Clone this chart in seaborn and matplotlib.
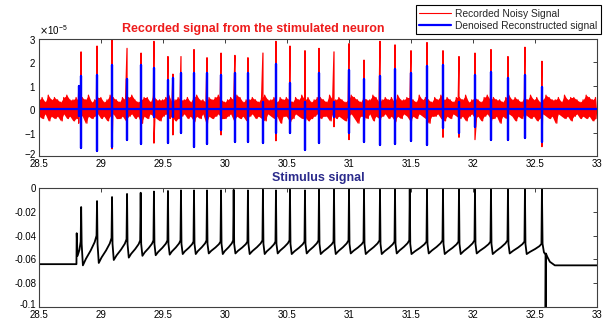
import numpy as np
import pandas as pd
import matplotlib
matplotlib.use("Agg")
import matplotlib.pyplot as plt
import matplotlib.transforms as mtransforms
from matplotlib.ticker import ScalarFormatter, FormatStrFormatter
import seaborn as sns

# ---- recorded signal (top panel), amplitudes in units of 1e-5 ----
T_START, T_END = 28.5, 33.0

# upper / lower edge of the background noise band, in units of 1e-6
NOISE_UP = [
    4, 5, 3, 6, 4, 5, 4, 3, 5, 6, 4, 4, 5, 3, 5, 4, 6, 3, 4, 5,
    5, 3, 4, 6, 5, 4, 3, 5, 4, 5, 6, 4, 3, 4, 5, 5, 3, 6, 4, 4,
    4, 5, 6, 3, 4, 5, 4, 4, 5, 3, 5, 6, 4, 4, 3, 5, 4, 5, 6, 4,
    3, 4, 5, 4, 6, 5, 3, 4, 4, 5, 4, 3, 5, 6, 4, 4, 5, 3, 5, 4,
    5, 4, 3, 5, 4, 6, 4, 5, 3, 4, 5, 5, 4, 3, 6, 4, 4, 5, 4, 3,
    4, 6, 5, 4, 3, 5, 4, 4, 6, 5, 3, 4, 5, 4, 5, 3, 6, 4, 4, 5,
    5, 4, 3, 6, 4, 5, 4, 3, 5, 4, 6, 4, 5, 4, 3, 5, 5, 4, 6, 3,
    4, 5, 4, 3, 5, 6, 4, 5, 4, 4, 3, 5, 6, 4, 5, 4, 3, 5, 4, 6,
    4, 5, 3, 4, 6, 5, 4, 4, 5, 3, 6, 4, 5, 5, 4, 3, 4, 6, 5, 4, 5,
]
NOISE_DOWN = [
    3, 4, 2, 5, 3, 4, 3, 5, 2, 4, 3, 5, 4, 2, 3, 6, 3, 4, 3, 2,
    4, 3, 5, 3, 2, 4, 4, 3, 5, 3, 2, 4, 3, 6, 3, 4, 2, 3, 4, 5,
    3, 2, 4, 3, 5, 4, 3, 2, 4, 3, 5, 3, 4, 2, 6, 3, 4, 3, 2, 4,
    4, 3, 2, 5, 3, 4, 3, 5, 3, 2, 4, 3, 4, 5, 2, 3, 4, 3, 6, 3,
    3, 5, 4, 2, 3, 4, 3, 5, 4, 3, 2, 4, 3, 3, 5, 2, 4, 3, 4, 5,
    3, 2, 4, 6, 3, 3, 4, 2, 5, 3, 4, 3, 2, 4, 3, 5, 3, 4, 2, 3,
    5, 3, 4, 2, 3, 4, 6, 3, 3, 2, 4, 5, 3, 4, 2, 3, 4, 3, 5, 3,
    2, 4, 3, 5, 3, 2, 4, 4, 3, 6, 3, 4, 2, 3, 5, 3, 4, 2, 3, 4,
    3, 5, 4, 2, 3, 4, 3, 6, 2, 3, 4, 3, 5, 3, 2, 4, 3, 4, 3, 5, 4,
]

SPIKE_T = [28.82, 28.839, 28.968, 29.089, 29.21, 29.323, 29.427, 29.54, 29.58,
           29.645, 29.75, 29.855, 29.968, 30.08, 30.185, 30.306, 30.411, 30.524,
           30.645, 30.758, 30.879, 31.0, 31.121, 31.25, 31.371, 31.5, 31.629,
           31.758, 31.887, 32.016, 32.145, 32.282, 32.419, 32.556]
RED_UP = [0.8, 2.45, 2.7, 3.0, 2.6, 2.4, 2.9, 2.25, 1.5, 2.25, 2.55, 2.2, 2.4,
          2.3, 2.2, 2.4, 2.9, 2.7, 2.5, 2.6, 2.45, 2.8, 2.1, 2.9, 2.75, 2.5,
          2.85, 2.5, 2.25, 2.4, 2.55, 2.25, 2.65, 2.05]
RED_DOWN = [-0.6, -0.6, -0.6, -1.7, -0.6, -0.6, -1.45, -0.6, -1.1, -0.6, -0.6,
            -0.6, -1.1, -0.6, -0.6, -0.6, -1.35, -0.6, -0.6, -0.6, -0.75, -1.3,
            -0.6, -0.6, -0.6, -0.6, -0.6, -1.2, -1.2, -1.3, -0.6, -0.6, -0.6, -1.6]
BLUE_UP = [1.0, 1.4, 1.45, 1.9, 1.3, 1.9, 1.75, 1.25, 1.35, 1.53, 1.55, 1.55,
           1.45, 1.53, 1.53, 0.3, 1.95, 1.1, 0.3, 1.55, 0.3, 1.67, 1.3, 1.4,
           1.7, 1.55, 1.85, 1.9, 0.3, 1.45, 1.6, 1.35, 1.45, 0.95]
BLUE_DOWN = [-0.3, -1.67, -1.8, -1.6, -1.3, -1.5, -0.35, -1.45, -0.35, -1.0,
             -1.6, -1.5, -0.9, -1.4, -1.4, -1.45, -1.0, -1.0, -1.75, -1.45,
             -0.35, -1.0, -1.4, -1.55, -1.5, -1.35, -1.55, -0.8, -1.0, -0.75,
             -1.3, -1.3, -1.25, -1.4]

# ---- stimulus signal (bottom panel) ----
STIM_HEAD_T = [28.5, 28.802, 28.804, 28.811, 28.826]
STIM_HEAD_V = [-0.064, -0.064, -0.038, -0.057, -0.052]
STIM_SPIKE_T = [28.84, 28.968, 29.089, 29.21, 29.32, 29.427, 29.54, 29.645,
                29.75, 29.855, 29.968, 30.07, 30.185, 30.306, 30.411, 30.524,
                30.645, 30.758, 30.879, 31.0, 31.121, 31.25, 31.371, 31.49,
                31.629, 31.758, 31.887, 32.016, 32.145, 32.282, 32.419, 32.556]
STIM_PEAK = [-0.016, -0.011, -0.0076, -0.005, -0.004, -0.003, -0.0025, -0.002,
             -0.002, -0.002, -0.002, -0.0015, -0.002, -0.0015, -0.002, -0.0015,
             -0.002, -0.0015, -0.001, -0.0015, -0.001, -0.0015, -0.001, -0.001,
             -0.001, -0.001, -0.001, -0.001, -0.001, -0.001, -0.001, -0.001]
STIM_TROUGH = [-0.065, -0.063, -0.0605, -0.0585, -0.057, -0.0565, -0.056,
               -0.0555, -0.0555, -0.055, -0.0555, -0.055, -0.0555, -0.0555,
               -0.055, -0.0555, -0.055, -0.0555, -0.0555, -0.055, -0.0555,
               -0.0555, -0.055, -0.0555, -0.055, -0.0555, -0.0555, -0.055,
               -0.0555, -0.055, -0.0555, -0.055]
STIM_KNEE = [-0.045, -0.040, -0.042, -0.043, -0.044, -0.044, -0.044, -0.044,
             -0.045, -0.044, -0.045, -0.044, -0.045, -0.044, -0.045, -0.044,
             -0.045, -0.044, -0.045, -0.044, -0.045, -0.044, -0.045, -0.044,
             -0.045, -0.044, -0.045, -0.044, -0.045, -0.044, -0.045, -0.047]
# shape of one inter-spike ramp: (fraction of interval, fraction of trough->knee rise)
RAMP_PHASE = [0.3, 0.6, 0.85]
RAMP_RISE = [0.22, 0.5, 0.78]
STIM_TAIL_T = [32.561, 32.572, 32.585, 32.585, 32.588, 32.6, 32.62, 32.66, 33.0]
STIM_TAIL_V = [-0.047, -0.054, -0.056, -0.13, -0.055, -0.058, -0.062, -0.065, -0.065]


def build_recorded():
    n = len(NOISE_UP)
    t_noise = np.linspace(T_START, T_END, 2 * n)
    v_noise = np.empty(2 * n)
    v_noise[0::2] = np.array(NOISE_UP) * 0.1
    v_noise[1::2] = -np.array(NOISE_DOWN) * 0.1
    band = pd.DataFrame({"t": t_noise[0::2],
                         "hi": v_noise[0::2] * 1e-5,
                         "lo": v_noise[1::2] * 1e-5})

    t_sp = np.repeat(SPIKE_T, 2)
    v_sp = np.column_stack([RED_UP, RED_DOWN]).ravel()
    t = np.concatenate([t_noise, t_sp])
    v = np.concatenate([v_noise, v_sp])
    order = np.argsort(t, kind="stable")
    red = pd.DataFrame({"t": t[order], "v": v[order] * 1e-5})

    tb = [T_START]
    vb = [0.0]
    for s, up, dn in zip(SPIKE_T, BLUE_UP, BLUE_DOWN):
        tb += [s, s, s, s]
        vb += [0.0, up, dn, 0.0]
    tb.append(T_END)
    vb.append(0.0)
    blue = pd.DataFrame({"t": tb, "v": np.array(vb) * 1e-5})
    return red, band, blue


def build_stimulus():
    t = list(STIM_HEAD_T)
    v = list(STIM_HEAD_V)
    n = len(STIM_SPIKE_T)
    for k in range(n):
        s = STIM_SPIKE_T[k]
        t += [s - 0.004, s]
        v += [STIM_KNEE[k], STIM_PEAK[k]]
        if k + 1 < n:
            isi = STIM_SPIKE_T[k + 1] - s
            tr = STIM_TROUGH[k]
            kn = STIM_KNEE[k + 1]
            t += [s + 0.004, s + 0.014]
            v += [-0.047, tr]
            for ph, rise in zip(RAMP_PHASE, RAMP_RISE):
                t.append(s + ph * isi)
                v.append(tr + rise * (kn - tr))
    t += STIM_TAIL_T
    v += STIM_TAIL_V
    return pd.DataFrame({"t": t, "v": v})


def style_axis(ax):
    for sp in ax.spines.values():
        sp.set_visible(True)
        sp.set_color("#404040")
        sp.set_linewidth(0.8)
    ax.tick_params(direction="in", length=3, width=0.7, colors="#404040",
                   labelcolor="black", labelsize=7, top=True, right=True,
                   pad=2)
    ax.set_xlim(T_START, T_END)
    ax.set_xticks(np.arange(28.5, 33.01, 0.5))
    ax.xaxis.set_major_formatter(FormatStrFormatter("%g"))
    ax.set_xlabel("")
    ax.set_ylabel("")


def lift_lowest_ylabel(fig, ax):
    # lowest y label sits a little higher, clear of the x labels
    tick = ax.yaxis.get_major_ticks()[0]
    shift = mtransforms.ScaledTranslation(0, 3 / 100, fig.dpi_scale_trans)
    tick.label1.set_transform(tick.label1.get_transform() + shift)


def main():
    sns.set_style("white")
    plt.rcParams["font.family"] = ["Liberation Sans", "DejaVu Sans"]
    plt.rcParams["axes.unicode_minus"] = False

    red, band, blue = build_recorded()
    stim = build_stimulus()

    fig = plt.figure(figsize=(6.08, 3.24), dpi=100)
    ax1 = fig.add_axes([39 / 608, 1 - 156 / 324, 558 / 608, 117 / 324])
    ax2 = fig.add_axes([39 / 608, 1 - 307 / 324, 558 / 608, 119 / 324])

    # dense core of the noise
    ax1.fill_between(band["t"], band["lo"], band["hi"], color="#ff0000",
                     linewidth=0)
    sns.lineplot(data=red, x="t", y="v", ax=ax1, sort=False, estimator=None,
                 color="#ff0000", linewidth=0.9, label="Recorded Noisy Signal")
    sns.lineplot(data=blue, x="t", y="v", ax=ax1, sort=False, estimator=None,
                 color="#0000ff", linewidth=1.6,
                 label="Denoised Reconstructed signal")
    style_axis(ax1)
    ax1.set_ylim(-2e-5, 3e-5)
    ax1.set_yticks(np.arange(-2, 3.1, 1) * 1e-5)
    fmt = ScalarFormatter(useMathText=True)
    fmt.set_powerlimits((0, 0))
    ax1.yaxis.set_major_formatter(fmt)
    ax1.yaxis.get_offset_text().set_fontsize(7)
    ax1.set_title("Recorded signal from the stimulated neuron", color="#ee1c1c",
                  fontweight="bold", fontsize=9, pad=5, x=0.3835)
    handles, labels = ax1.get_legend_handles_labels()
    ax1.get_legend().remove()

    sns.lineplot(data=stim, x="t", y="v", ax=ax2, sort=False, estimator=None,
                 color="black", linewidth=1.3)
    style_axis(ax2)
    ax2.set_ylim(-0.1, 0)
    ax2.set_yticks([-0.1, -0.08, -0.06, -0.04, -0.02, 0])
    ax2.yaxis.set_major_formatter(FormatStrFormatter("%g"))
    ax2.set_title("Stimulus signal", color="#2b2b8c", fontweight="bold",
                  fontsize=9, pad=5)

    lift_lowest_ylabel(fig, ax1)
    lift_lowest_ylabel(fig, ax2)

    leg = fig.legend(handles, labels, loc="upper right",
                     bbox_to_anchor=(601 / 608, 1 - 5 / 324),
                     bbox_transform=fig.transFigure, frameon=True,
                     fancybox=False, edgecolor="black", framealpha=1,
                     fontsize=7.4, handlelength=3.1, handletextpad=0.4,
                     labelspacing=0.2, borderpad=0.35, borderaxespad=0)
    leg.get_frame().set_linewidth(0.8)
    leg.legend_handles[0].set_linewidth(0.8)

    fig.savefig("out.png", dpi=100)
    plt.close(fig)


if __name__ == "__main__":
    main()
